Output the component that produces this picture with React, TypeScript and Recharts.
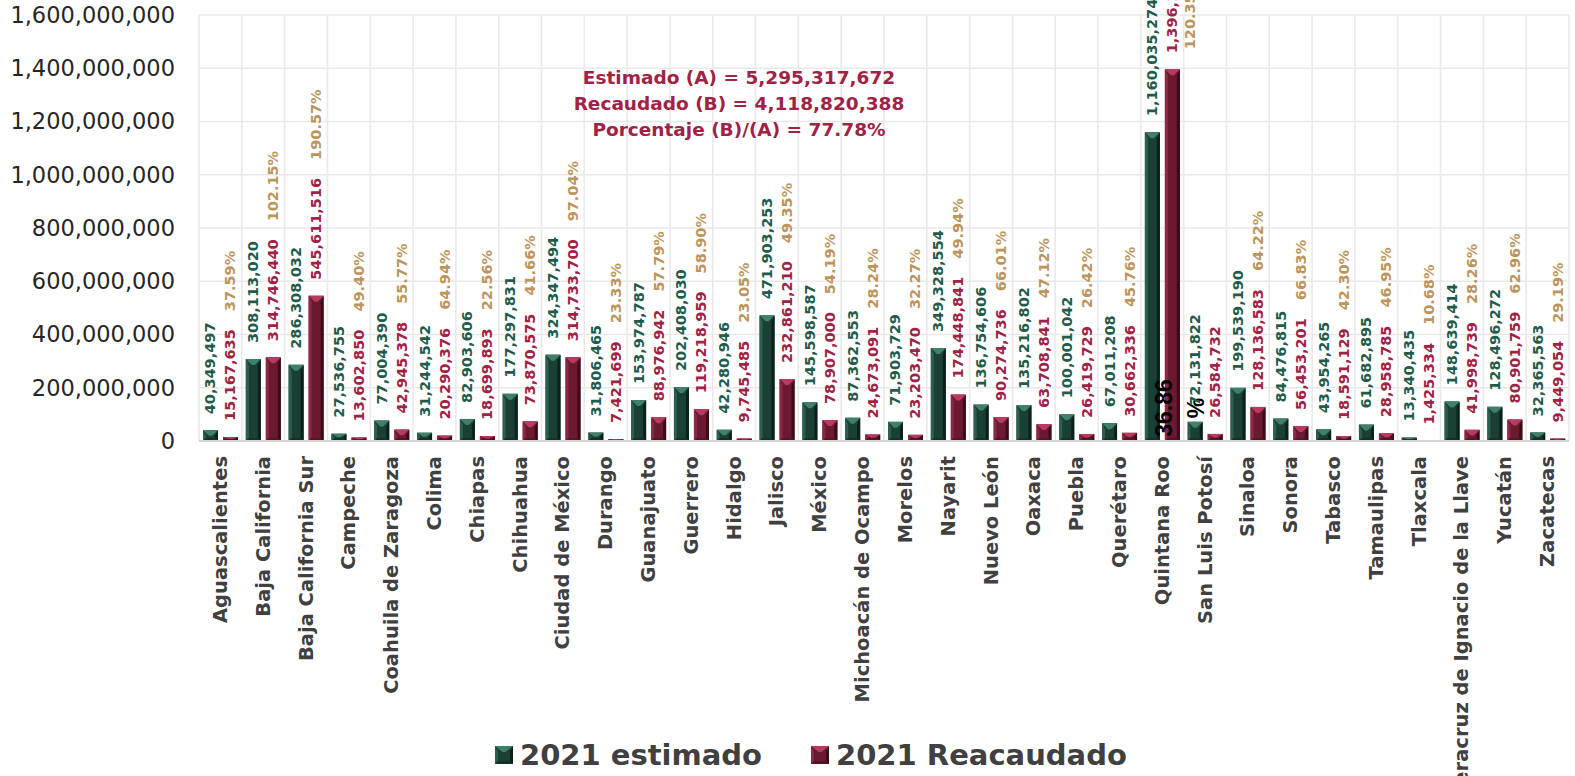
import React from "react";
import { BarChart, Bar, XAxis, YAxis, CartesianGrid, LabelList, ReferenceDot } from "recharts";

const states = [
  "Aguascalientes", "Baja California", "Baja California Sur", "Campeche",
  "Coahuila de Zaragoza", "Colima", "Chiapas", "Chihuahua", "Ciudad de México",
  "Durango", "Guanajuato", "Guerrero", "Hidalgo", "Jalisco", "México",
  "Michoacán de Ocampo", "Morelos", "Nayarit", "Nuevo León", "Oaxaca", "Puebla",
  "Querétaro", "Quintana Roo", "San Luis Potosí", "Sinaloa", "Sonora", "Tabasco",
  "Tamaulipas", "Tlaxcala", "Veracruz de Ignacio de la Llave", "Yucatán", "Zacatecas",
];

const estimado2021 = [
  40349497, 308113020, 286308032, 27536755, 77004390, 31244542, 82903606,
  177297831, 324347494, 31806465, 153974787, 202408030, 42280946, 471903253,
  145598587, 87362553, 71903729, 349328554, 136754606, 135216802, 100001042,
  67011208, 1160035274, 72131822, 199539190, 84476815, 43954265, 61682895,
  13340435, 148639414, 128496272, 32365563,
];

const recaudado2021 = [
  15167635, 314746440, 545611516, 13602850, 42945378, 20290376, 18699893,
  73870575, 314733700, 7421699, 88976942, 119218959, 9745485, 232861210,
  78907000, 24673091, 23203470, 174448841, 90274736, 63708841, 26419729,
  30662336, 1396130370, 26584732, 128136583, 56453201, 18591129, 28958785,
  1425334, 41998739, 80901759, 9449054,
];

const porcentaje = [
  "37.59%", "102.15%", "190.57%", "49.40%", "55.77%", "64.94%", "22.56%",
  "41.66%", "97.04%", "23.33%", "57.79%", "58.90%", "23.05%", "49.35%",
  "54.19%", "28.24%", "32.27%", "49.94%", "66.01%", "47.12%", "26.42%",
  "45.76%", "120.35%", "36.86%", "64.22%", "66.83%", "42.30%", "46.95%",
  "10.68%", "28.26%", "62.96%", "29.19%",
];

// the San Luis Potosí percentage sits loose at the foot of Quintana Roo
const loosePctState = "San Luis Potosí";
const loosePctAnchor = "Quintana Roo";

const yTicks = [0, 200000000, 400000000, 600000000, 800000000, 1000000000, 1200000000, 1400000000, 1600000000];

const totals = [
  "Estimado (A) = 5,295,317,672",
  "Recaudado (B) = 4,118,820,388",
  "Porcentaje (B)/(A) = 77.78%",
];

const data = states.map((name, i) => ({
  name,
  estimado: estimado2021[i],
  recaudado: recaudado2021[i],
}));

const FONT = "'DejaVu Sans', sans-serif";
const LABEL_FS = 14.5;
const GREEN_TXT = "#1F5C4C";
const RED_TXT = "#A02244";
const GOLD_TXT = "#BC955C";

const GREEN = { base: "#1A3F34", top: "#3E806B", left: "#2C5F50", right: "#0B211B", bottom: "#133128" };
const RED = { base: "#6B1930", top: "#B83A5E", left: "#8C2843", right: "#3B0B18", bottom: "#551425" };

const fmt = (v: number) => v.toLocaleString("en-US");

// rough advance widths of DejaVu Sans Bold, in em
function textLen(s: string, fs: number) {
  let w = 0;
  for (const c of s) {
    if (c >= "0" && c <= "9") w += 0.696;
    else if (c === "," || c === ".") w += 0.38;
    else if (c === "%") w += 1.002;
    else w += 0.65;
  }
  return w * fs;
}

function Bevel(props: any) {
  const { x, y, width: w, height: h, pal } = props;
  if (!(h > 0) || !(w > 0)) return null;
  const s = Math.min(3, w / 2, h / 2);
  const t = Math.min(6, h / 2);
  return (
    <g>
      <rect x={x} y={y} width={w} height={h} fill={pal.base} />
      <polygon points={`${x},${y} ${x + s},${y + t} ${x + s},${y + h - s} ${x},${y + h}`} fill={pal.left} />
      <polygon points={`${x + w},${y} ${x + w},${y + h} ${x + w - s},${y + h - s} ${x + w - s},${y + t}`} fill={pal.right} />
      <polygon points={`${x},${y + h} ${x + w},${y + h} ${x + w - s},${y + h - s} ${x + s},${y + h - s}`} fill={pal.bottom} />
      <polygon points={`${x},${y} ${x + w},${y} ${x + w / 2 + 1.5},${y + t} ${x + w / 2 - 1.5},${y + t}`} fill={pal.top} />
    </g>
  );
}

function vText(x: number, y: number, txt: string, fill: string, key?: string) {
  return (
    <text
      key={key}
      x={x}
      y={y}
      transform={`rotate(-90 ${x} ${y})`}
      textAnchor="start"
      dominantBaseline="central"
      fontFamily={FONT}
      fontSize={LABEL_FS}
      fontWeight={700}
      fill={fill}
    >
      {txt}
    </text>
  );
}

const GAP = 16;
const PCT_GAP = 18;

function GreenLabel(props: any) {
  const vb = props.viewBox ?? props;
  const cx = vb.x + vb.width / 2;
  return vText(cx, vb.y - GAP, fmt(props.value), GREEN_TXT);
}

function RedLabel(props: any) {
  const vb = props.viewBox ?? props;
  const idx = props.index;
  const cx = vb.x + vb.width / 2;
  const y0 = vb.y - GAP;
  const txt = fmt(props.value);
  const els = [vText(cx, y0, txt, RED_TXT, "v")];
  if (states[idx] !== loosePctState) {
    const pct = porcentaje[idx];
    let px = cx;
    let py = y0 - textLen(txt, LABEL_FS) - PCT_GAP;
    if (py - textLen(pct, LABEL_FS) < 0) {
      px = cx + 18;
      py = y0 - 4;
    }
    els.push(vText(px, py, pct, GOLD_TXT, "p"));
  }
  return <g>{els}</g>;
}

function LoosePct(props: any) {
  const vb = props.viewBox ?? props;
  const x = vb.x + 2;
  const y = vb.y - 33;
  const pct = porcentaje[states.indexOf(loosePctState)];
  const num = pct.replace("%", "");
  const common = {
    fontFamily: "'Liberation Sans', Arial, sans-serif",
    fontSize: 23,
    fontWeight: 700,
    fill: "#000",
    textAnchor: "middle" as const,
    dominantBaseline: "central" as const,
  };
  return (
    <g>
      <text x={x} y={y} transform={`rotate(-90 ${x} ${y})`} {...common}>{num}</text>
      <text x={x + 32} y={y} transform={`rotate(-90 ${x + 32} ${y})`} {...common}>%</text>
    </g>
  );
}

function CatTick(props: any) {
  const { x, y, payload } = props;
  return (
    <text
      x={x}
      y={y}
      transform={`rotate(-90 ${x} ${y})`}
      textAnchor="end"
      dominantBaseline="central"
      fontFamily={FONT}
      fontSize={19.5}
      fontWeight={700}
      fill="#404040"
    >
      {payload.value}
    </text>
  );
}

function LegendSwatch({ pal }: { pal: typeof GREEN }) {
  return (
    <svg width={18} height={18} style={{ display: "block" }}>
      <Bevel x={0} y={0} width={18} height={18} pal={pal} />
    </svg>
  );
}

export default function App() {
  const n = states.length;
  return (
    <div
      style={{
        position: "fixed",
        left: 0,
        top: 0,
        width: 1575,
        height: 776,
        background: "#fff",
        overflow: "hidden",
        fontFamily: FONT,
      }}
    >
      <BarChart
        width={1575}
        height={776}
        data={data}
        margin={{ top: 15, right: 6, left: 0, bottom: 0 }}
        barGap={5}
        barCategoryGap={4}
      >
        <CartesianGrid
          stroke="#E9E9E9"
          strokeWidth={1.6}
          verticalCoordinatesGenerator={({ offset }: any) =>
            Array.from({ length: n + 1 }, (_, i) => offset.left + (i * offset.width) / n)
          }
        />
        <XAxis
          dataKey="name"
          interval={0}
          tickLine={false}
          tickSize={0}
          tickMargin={15}
          height={335}
          axisLine={{ stroke: "#D6D6D6", strokeWidth: 2 }}
          tick={<CatTick />}
        />
        <YAxis
          width={199}
          domain={[0, 1600000000]}
          ticks={yTicks}
          interval={0}
          axisLine={false}
          tickLine={false}
          tickMargin={18}
          tickFormatter={fmt}
          tick={{ fontFamily: FONT, fontSize: 22.5, fill: "#262626" }}
        />
        <Bar dataKey="estimado" barSize={15} isAnimationActive={false} shape={<Bevel pal={GREEN} />}>
          <LabelList dataKey="estimado" content={<GreenLabel />} />
        </Bar>
        <Bar dataKey="recaudado" barSize={15} isAnimationActive={false} shape={<Bevel pal={RED} />}>
          <LabelList dataKey="recaudado" content={<RedLabel />} />
        </Bar>
        <ReferenceDot
          x={loosePctAnchor}
          y={0}
          r={0}
          fill="none"
          stroke="none"
          ifOverflow="visible"
          label={<LoosePct />}
        />
      </BarChart>

      <div
        style={{
          position: "absolute",
          left: 489,
          top: 65,
          width: 500,
          textAlign: "center",
          color: "#A02244",
          fontWeight: 700,
          fontSize: 18.5,
          lineHeight: "26px",
        }}
      >
        {totals.map((t) => (
          <div key={t}>{t}</div>
        ))}
      </div>

      <div
        style={{
          position: "absolute",
          left: 495,
          top: 738,
          display: "flex",
          alignItems: "center",
          color: "#404040",
          fontWeight: 700,
          fontSize: 29,
          lineHeight: "34px",
        }}
      >
        <LegendSwatch pal={GREEN} />
        <span style={{ marginLeft: 7, marginRight: 49 }}>2021 estimado</span>
        <LegendSwatch pal={RED} />
        <span style={{ marginLeft: 7 }}>2021 Reacaudado</span>
      </div>
    </div>
  );
}
